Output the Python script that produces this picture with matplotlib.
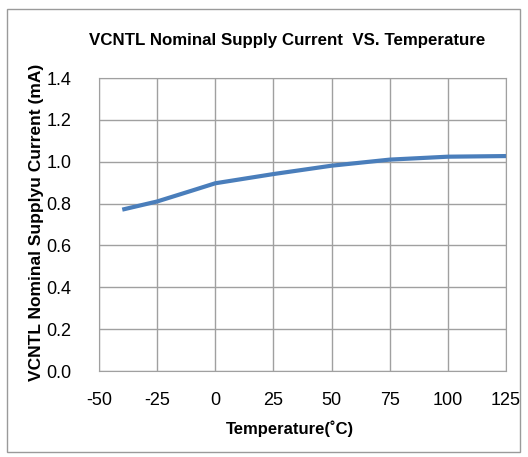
import matplotlib
matplotlib.use("Agg")
import matplotlib.pyplot as plt
from matplotlib.patches import Rectangle

# values
temperature = [-40, -25, -10, 0, 25, 50, 75, 100, 125]
supply_current = [0.771, 0.81, 0.862, 0.897, 0.941, 0.981, 1.01, 1.024, 1.027]

x_ticks = [-50, -25, 0, 25, 50, 75, 100, 125]
y_ticks = [0.0, 0.2, 0.4, 0.6, 0.8, 1.0, 1.2, 1.4]

plt.rcParams['font.family'] = ['Liberation Sans', 'DejaVu Sans']
plt.rcParams['axes.unicode_minus'] = False

fig = plt.figure(figsize=(5.28, 4.57), dpi=100)
ax = fig.add_axes([99 / 528, 1 - 371 / 457, 407 / 528, 293 / 457])

ax.plot(temperature, supply_current, color='#4A7EBB', linewidth=3, solid_capstyle='butt')

ax.set_xlim(-50, 125)
ax.set_ylim(0, 1.4)
ax.set_xticks(x_ticks)
ax.set_yticks(y_ticks)
ax.set_yticklabels(["{:.1f}".format(v) for v in y_ticks])
ax.tick_params(length=0, labelsize=13)
ax.tick_params(axis='y', pad=20)
ax.tick_params(axis='x', pad=15)
ax.grid(True, color='#A0A0A0', linewidth=1)
for s in ax.spines.values():
    s.set_color('#A0A0A0')

ax.set_xlabel("Temperature(˚C)", fontsize=12, fontweight='bold')
ax.set_ylabel("VCNTL Nominal Supplyu Current (mA)", fontsize=12.5, fontweight='bold')
ax.xaxis.set_label_coords((290 - 99) / 407, -(420 - 371) / 293)
ax.yaxis.set_label_coords(-(99 - 44) / 407, 0.5 - (222 - 224.5) / 293)
fig.text(287 / 528, 1 - 40 / 457, "VCNTL Nominal Supply Current  VS. Temperature",
         ha='center', va='center', fontsize=12.2, fontweight='bold')

fig.patches.append(Rectangle((7 / 528, 5 / 457), 513 / 528, 443 / 457, transform=fig.transFigure,
                             fill=False, edgecolor='#9A9A9A', linewidth=1))

fig.savefig("out.png", dpi=100)
